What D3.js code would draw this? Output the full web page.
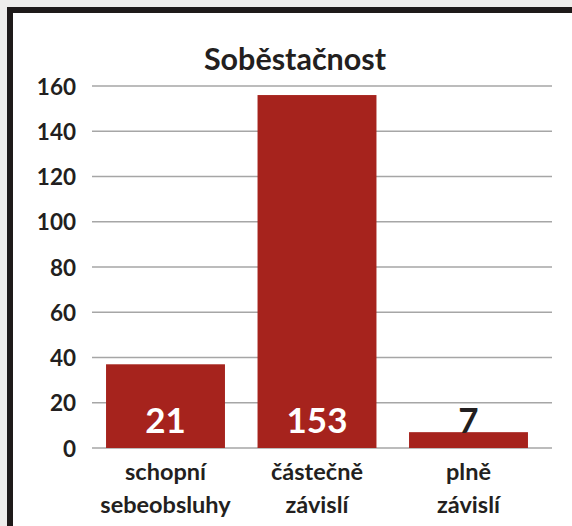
<!DOCTYPE html>
<html><head><meta charset="utf-8">
<script src="https://cdn.jsdelivr.net/npm/d3@7/dist/d3.min.js"></script>
<style>html,body{margin:0;padding:0;background:#eeedeb;}svg{display:block;}</style>
</head><body>
<script>
const title = "Soběstačnost";
const categories = [["schopní","sebeobsluhy"],["částečně","závislí"],["plně","závislí"]];
const barValues = [37, 156, 7];
const labelValues = [21, 153, 7];
const yTicks = [0,20,40,60,80,100,120,140,160];

const W = 572, H = 526;
const svg = d3.select("body").append("svg").attr("width", W).attr("height", H);
const font = "Lato, 'Open Sans', sans-serif";

// frame
svg.append("rect").attr("x", 7).attr("y", 7).attr("width", W - 7).attr("height", H - 7).attr("fill", "#1e1a19");
svg.append("rect").attr("x", 13).attr("y", 13).attr("width", W - 13).attr("height", H - 13).attr("fill", "#ffffff");

const y = d3.scaleLinear().domain([0, 160]).range([448, 86]);
const x = d3.scaleBand().domain(d3.range(categories.length)).range([89.75, 544.25]).paddingInner(0.215).paddingOuter(0.1075);

// gridlines
svg.append("g").selectAll("line").data(yTicks).join("line")
  .attr("x1", 92).attr("x2", 552)
  .attr("y1", d => y(d)).attr("y2", d => y(d))
  .attr("stroke", "#a6a6a6").attr("stroke-width", 1.5);

// y axis labels
const yAxis = d3.axisLeft(y).tickValues(yTicks).tickSize(0).tickPadding(0);
const gy = svg.append("g").attr("transform", "translate(76,0)").call(yAxis);
gy.select(".domain").remove();
gy.selectAll("text").attr("font-family", font).attr("font-weight", "bold")
  .attr("font-size", 22.5).attr("fill", "#231f20").attr("dy", "0.36em");

// bars
svg.append("g").selectAll("rect").data(barValues).join("rect")
  .attr("x", (d, i) => x(i)).attr("width", x.bandwidth())
  .attr("y", d => y(d)).attr("height", d => y(0) - y(d))
  .attr("fill", "#a6231d");

// data labels
svg.append("g").selectAll("text").data(labelValues).join("text")
  .attr("x", (d, i) => x(i) + x.bandwidth() / 2)
  .attr("y", 433)
  .attr("text-anchor", "middle")
  .attr("font-family", font).attr("font-weight", "bold").attr("font-size", 35)
  .attr("fill", (d, i) => barValues[i] > 20 ? "#ffffff" : "#231f20")
  .text(d => d);

// category labels
const cg = svg.append("g").selectAll("text").data(categories).join("text")
  .attr("text-anchor", "middle")
  .attr("font-family", font).attr("font-weight", "bold").attr("font-size", 23.5)
  .attr("fill", "#231f20");
cg.selectAll("tspan").data((d, i) => d.map(t => ({t, i}))).join("tspan")
  .attr("x", d => x(d.i) + x.bandwidth() / 2)
  .attr("y", (d, j) => 480 + j * 33)
  .text(d => d.t);

// title
svg.append("text").attr("x", 295).attr("y", 70).attr("text-anchor", "middle")
  .attr("font-family", font).attr("font-weight", "bold").attr("font-size", 30.5)
  .attr("fill", "#231f20").text(title);
</script>
</body></html>
